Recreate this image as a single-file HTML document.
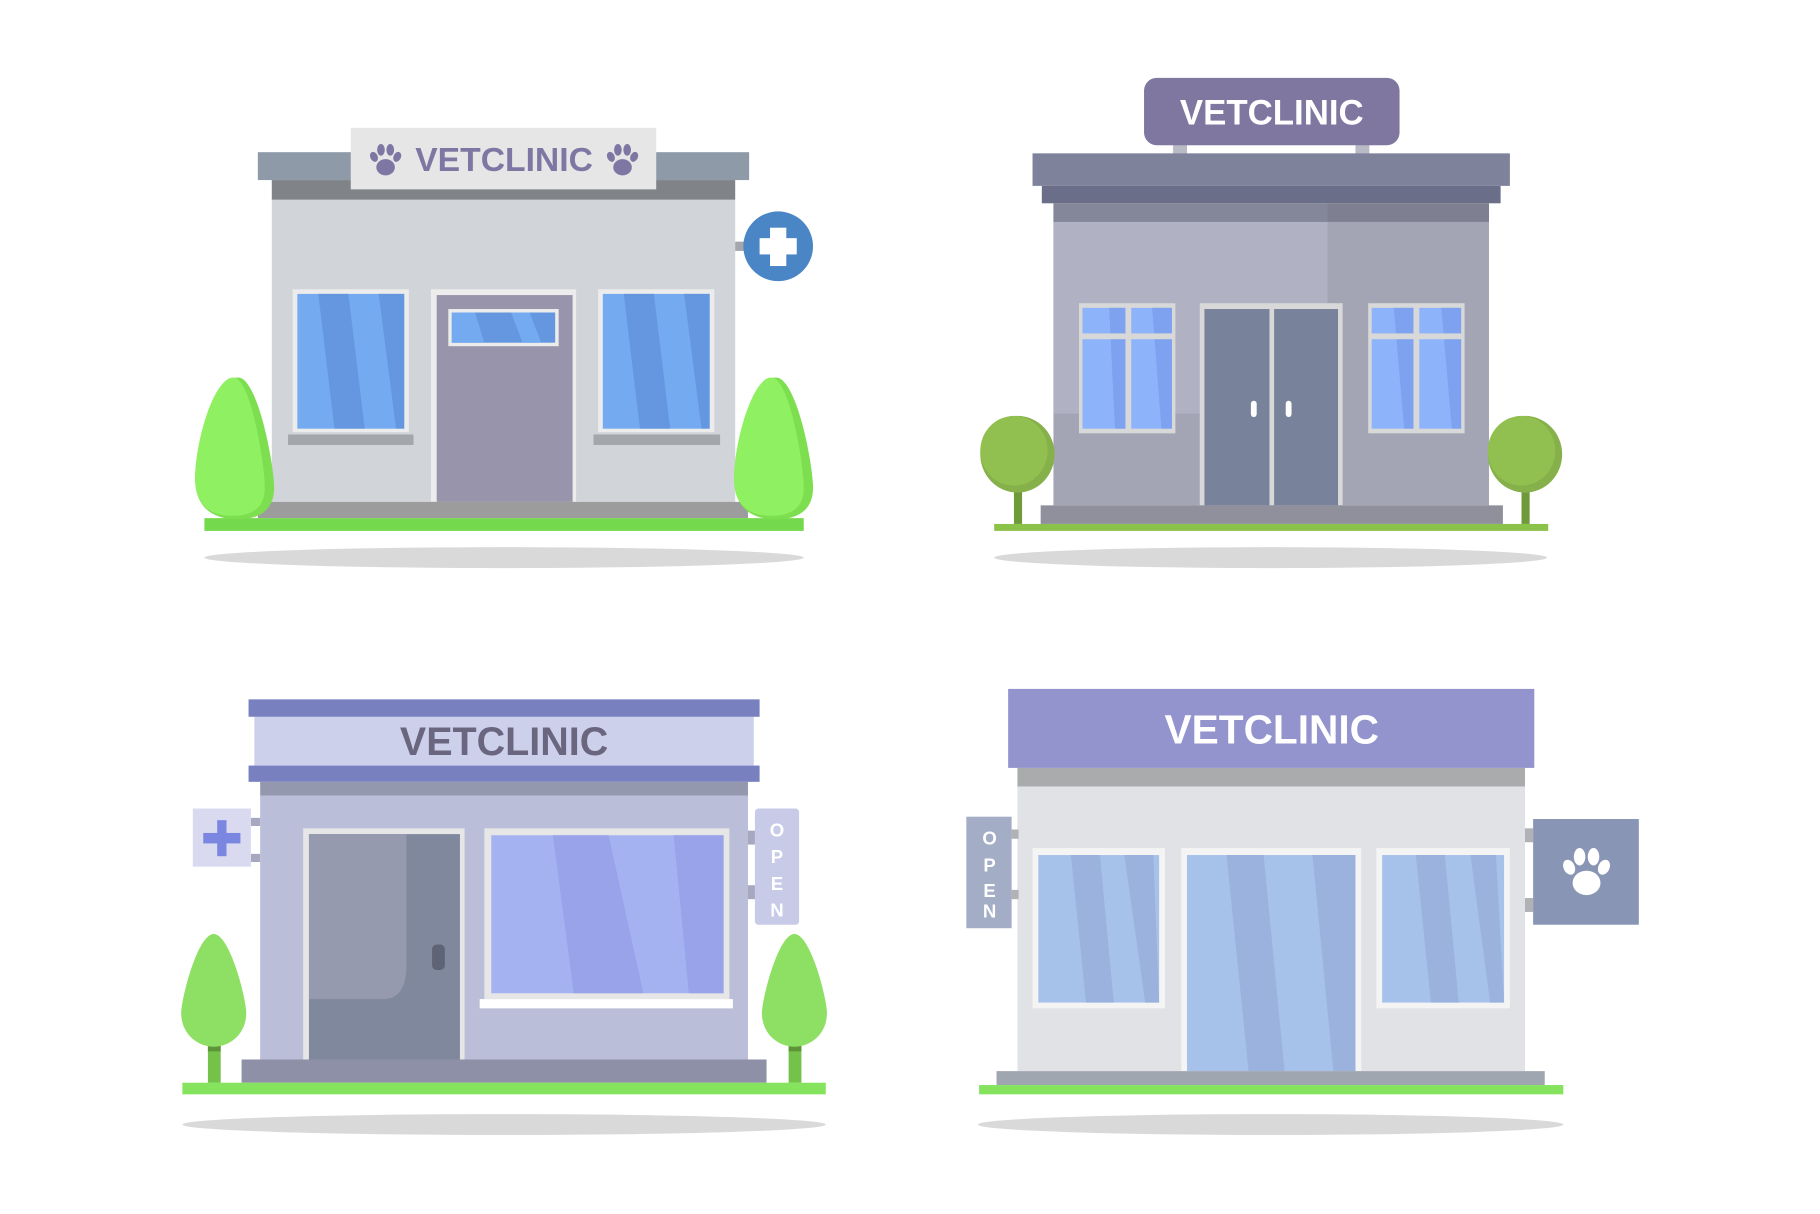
<!DOCTYPE html>
<html><head><meta charset="utf-8"><style>
html,body{margin:0;padding:0;background:#fff;}
svg{display:block;}
text{font-family:"Liberation Sans",sans-serif;font-weight:bold;}
</style></head><body>
<svg width="1820" height="1214" viewBox="0 0 1567 1045" preserveAspectRatio="none" xmlns="http://www.w3.org/2000/svg">
<defs>
<g id="paw">
<ellipse cx="0" cy="6" rx="8" ry="7"/>
<ellipse cx="-10" cy="-3" rx="3.2" ry="4.5" transform="rotate(-25 -10 -3)"/>
<ellipse cx="-4" cy="-9" rx="3.3" ry="5"/>
<ellipse cx="4" cy="-9" rx="3.3" ry="5"/>
<ellipse cx="10" cy="-3" rx="3.2" ry="4.5" transform="rotate(25 10 -3)"/>
</g>
</defs>
<rect width="1567" height="1045" fill="#fff"/>

<!-- ===== Building 1 ===== -->
<ellipse cx="434" cy="480" rx="258" ry="9" fill="#d9d9d9"/>
<rect x="222" y="131" width="423" height="24" fill="#8e9aa8"/>
<rect x="234" y="155" width="399" height="17" fill="#808388"/>
<rect x="234" y="172" width="399" height="260" fill="#d1d4d9"/>
<rect x="302" y="110" width="263" height="53" fill="#e6e6e6"/>
<text x="434" y="147" font-size="29" fill="#7f77a3" text-anchor="middle">VETCLINIC</text>
<g fill="#7f77a3"><use href="#paw" transform="translate(332,138)"/><use href="#paw" transform="translate(536,138)"/></g>
<rect x="252" y="249" width="100" height="123" fill="#ececec"/>
<rect x="256" y="253" width="92" height="116" fill="#74aaf0"/>
<polygon points="274,253 300,253 314,369 288,369" fill="#6597e0"/>
<polygon points="326,253 348,253 348,369 341,369" fill="#6597e0"/>
<rect x="248" y="374" width="108" height="9" fill="#a3a6ab"/>
<rect x="515" y="249" width="100" height="123" fill="#ececec"/>
<rect x="519" y="253" width="92" height="116" fill="#74aaf0"/>
<polygon points="537,253 563,253 577,369 551,369" fill="#6597e0"/>
<polygon points="589,253 611,253 611,369 604,369" fill="#6597e0"/>
<rect x="511" y="374" width="109" height="9" fill="#a3a6ab"/>
<rect x="371" y="249" width="125" height="183" fill="#ececec"/>
<rect x="376" y="254" width="117" height="178" fill="#9894ab"/>
<rect x="386" y="266" width="95" height="32" fill="#ececec"/>
<rect x="389" y="269" width="89" height="26" fill="#6597e0"/>
<polygon points="389,269 409,269 417,295 389,295" fill="#74aaf0"/>
<polygon points="440,269 456,269 466,295 450,295" fill="#74aaf0"/>
<rect x="222" y="432" width="422" height="14" fill="#9c9c9c"/>
<rect x="176" y="446" width="516" height="11" fill="#74d94c"/>
<path d="M205,325 C222,325 236,400 236,420 C236,440 222,447 205,447 C178,447 168,432 168,412 C168,380 186,325 205,325Z" fill="#7ddf50"/>
<path d="M201,325 C216,325 228,400 228,420 C228,438 216,444 200,444 C178,444 168,432 168,412 C168,380 184,325 201,325Z" fill="#8ff061"/>
<path d="M668,325 C686,325 700,400 700,420 C700,440 686,447 668,447 C642,447 632,432 632,412 C632,380 650,325 668,325Z" fill="#7ddf50"/>
<path d="M664,325 C680,325 692,400 692,420 C692,438 680,444 664,444 C642,444 632,432 632,412 C632,380 648,325 664,325Z" fill="#8ff061"/>
<rect x="633" y="208" width="9" height="8" fill="#a3a6ab"/>
<ellipse cx="670" cy="212" rx="30" ry="30" fill="#4a86c5"/>
<rect x="663" y="196" width="14" height="33" fill="#fff"/>
<rect x="654" y="205" width="32" height="14" fill="#fff"/>

<!-- ===== Building 2 ===== -->
<ellipse cx="1094" cy="480" rx="238" ry="9" fill="#d9d9d9"/>
<rect x="1010" y="124" width="12" height="9" fill="#b8bac6"/>
<rect x="1167" y="124" width="12" height="9" fill="#b8bac6"/>
<rect x="985" y="67" width="220" height="58" rx="11" fill="#7f77a0"/>
<text x="1095" y="107" font-size="30" fill="#fff" text-anchor="middle">VETCLINIC</text>
<rect x="889" y="132" width="411" height="28" fill="#7e839b"/>
<rect x="897" y="160" width="395" height="15" fill="#6b6e89"/>
<rect x="907" y="175" width="375" height="260" fill="#a3a5b4"/>
<rect x="907" y="191" width="236" height="165" fill="#b0b1c3"/>
<rect x="907" y="175" width="236" height="16" fill="#848799"/>
<rect x="1143" y="175" width="139" height="16" fill="#7e8091"/>
<g>
<rect x="929" y="261" width="83" height="112" fill="#d8d8d8"/>
<rect x="932" y="265" width="77" height="104" fill="#8db3fa"/>
<polygon points="955,265 969,265 969,369 960,369" fill="#7ea2ef"/>
<polygon points="992,265 1009,265 1009,369 1000,369" fill="#7ea2ef"/>
<rect x="969" y="264" width="5" height="106" fill="#d8d8d8"/>
<rect x="931" y="287" width="79" height="5" fill="#d8d8d8"/>
</g>
<g>
<rect x="1178" y="261" width="83" height="112" fill="#d8d8d8"/>
<rect x="1181" y="265" width="77" height="104" fill="#8db3fa"/>
<polygon points="1200,265 1217,265 1217,369 1209,369" fill="#7ea2ef"/>
<polygon points="1241,265 1258,265 1258,369 1250,369" fill="#7ea2ef"/>
<rect x="1217" y="264" width="5" height="106" fill="#d8d8d8"/>
<rect x="1180" y="287" width="79" height="5" fill="#d8d8d8"/>
</g>
<rect x="1033" y="261" width="123" height="174" fill="#d8d8d8"/>
<rect x="1037" y="266" width="115" height="169" fill="#79829b"/>
<rect x="1093" y="266" width="4" height="169" fill="#d8d8d8"/>
<rect x="1077" y="345" width="5" height="14" rx="2.5" fill="#fff"/>
<rect x="1107" y="345" width="5" height="14" rx="2.5" fill="#fff"/>
<rect x="896" y="435" width="398" height="16" fill="#908f9c"/>
<rect x="856" y="451" width="477" height="6" fill="#8bc34a"/>
<rect x="873" y="418" width="7" height="33" fill="#6e9a3a"/>
<ellipse cx="876" cy="391" rx="32" ry="33" fill="#86b04a"/>
<ellipse cx="873" cy="388" rx="29" ry="30" fill="#92c050"/>
<rect x="1310" y="418" width="7" height="33" fill="#6e9a3a"/>
<ellipse cx="1313" cy="391" rx="32" ry="33" fill="#86b04a"/>
<ellipse cx="1310" cy="388" rx="29" ry="30" fill="#92c050"/>

<!-- ===== Building 3 ===== -->
<ellipse cx="434" cy="968" rx="277" ry="9" fill="#d9d9d9"/>
<rect x="219" y="617" width="430" height="42" fill="#cdd0ea"/>
<rect x="214" y="602" width="440" height="15" fill="#7880c0"/>
<rect x="214" y="659" width="440" height="14" fill="#7880c0"/>
<text x="434" y="650" font-size="34" fill="#6a6680" text-anchor="middle">VETCLINIC</text>
<rect x="224" y="673" width="420" height="12" fill="#9498ae"/>
<rect x="224" y="685" width="420" height="227" fill="#babed9"/>
<rect x="261" y="713" width="139" height="199" fill="#e6e6e6"/>
<rect x="266" y="718" width="130" height="194" fill="#80889e"/>
<path d="M266,718 L350,718 L350,830 Q350,860 330,860 L266,860Z" fill="#959aae"/>
<rect x="372" y="813" width="11" height="22" rx="4" fill="#5e6475"/>
<rect x="417" y="713" width="211" height="147" fill="#e6e6e6"/>
<rect x="423" y="719" width="200" height="136" fill="#a5b2f2"/>
<polygon points="476,719 524,719 554,855 494,855" fill="#98a3ea"/>
<polygon points="580,719 623,719 623,855 593,855" fill="#98a3ea"/>
<rect x="413" y="860" width="218" height="8" fill="#fff"/>
<rect x="208" y="912" width="452" height="20" fill="#8d90a6"/>
<rect x="157" y="932" width="554" height="10" fill="#86e35e"/>
<rect x="216" y="704" width="8" height="7" fill="#a6a8c0"/>
<rect x="216" y="735" width="8" height="7" fill="#a6a8c0"/>
<rect x="166" y="696" width="50" height="50" fill="#d9daf0"/>
<rect x="187" y="706" width="8" height="31" fill="#7a86e0"/>
<rect x="175" y="717" width="32" height="9" fill="#7a86e0"/>
<rect x="644" y="715" width="6" height="12" fill="#a6a8c0"/>
<rect x="644" y="762" width="6" height="12" fill="#a6a8c0"/>
<rect x="650" y="696" width="38" height="100" rx="3" fill="#c8cbe8"/>
<g fill="#fff" font-size="16" text-anchor="middle">
<text x="669" y="720">O</text><text x="669" y="743">P</text><text x="669" y="766">E</text><text x="669" y="789">N</text>
</g>
<rect x="179" y="893" width="11" height="39" fill="#74c24a"/>
<rect x="179" y="893" width="11" height="12" fill="#5c9438"/>
<path d="M184,804 C198,804 212,860 212,872 C212,890 198,901 184,901 C170,901 156,890 156,872 C156,860 170,804 184,804Z" fill="#8ee064"/>
<rect x="679" y="893" width="11" height="39" fill="#74c24a"/>
<rect x="679" y="893" width="11" height="12" fill="#5c9438"/>
<path d="M684,804 C698,804 712,860 712,872 C712,890 698,901 684,901 C670,901 656,890 656,872 C656,860 670,804 684,804Z" fill="#8ee064"/>

<!-- ===== Building 4 ===== -->
<ellipse cx="1094" cy="968" rx="252" ry="9" fill="#d9d9d9"/>
<rect x="876" y="661" width="437" height="17" fill="#a9abac"/>
<rect x="876" y="677" width="437" height="245" fill="#e1e2e6"/>
<rect x="868" y="593" width="453" height="68" fill="#9393cd"/>
<text x="1095" y="640" font-size="35" fill="#fff" text-anchor="middle">VETCLINIC</text>
<rect x="889" y="730" width="114" height="138" fill="#f4f4f4"/>
<rect x="894" y="736" width="104" height="127" fill="#a6c2ea"/>
<polygon points="922,736 947,736 959,863 935,863" fill="#9bb2de"/>
<polygon points="968,736 993,736 998,863 986,863" fill="#9bb2de"/>
<rect x="1185" y="730" width="115" height="138" fill="#f4f4f4"/>
<rect x="1190" y="736" width="105" height="127" fill="#a6c2ea"/>
<polygon points="1219,736 1244,736 1256,863 1232,863" fill="#9bb2de"/>
<polygon points="1266,736 1288,736 1295,863 1283,863" fill="#9bb2de"/>
<rect x="1017" y="730" width="155" height="192" fill="#f4f4f4"/>
<rect x="1022" y="736" width="145" height="186" fill="#a6c2ea"/>
<polygon points="1056,736 1088,736 1106,922 1075,922" fill="#9bb2de"/>
<polygon points="1130,736 1167,736 1167,922 1148,922" fill="#9bb2de"/>
<rect x="858" y="922" width="472" height="12" fill="#a0a6b0"/>
<rect x="843" y="934" width="503" height="8" fill="#86e35e"/>
<rect x="871" y="714" width="6" height="8" fill="#b0b2b6"/>
<rect x="871" y="766" width="6" height="8" fill="#b0b2b6"/>
<rect x="832" y="703" width="39" height="96" fill="#a3adc6"/>
<g fill="#fff" font-size="16" text-anchor="middle">
<text x="852" y="727">O</text><text x="852" y="750">P</text><text x="852" y="772">E</text><text x="852" y="790">N</text>
</g>
<rect x="1313" y="713" width="7" height="12" fill="#b0b2b6"/>
<rect x="1313" y="773" width="7" height="12" fill="#b0b2b6"/>
<rect x="1320" y="705" width="91" height="91" fill="#8895b5"/>
<g fill="#fff"><use href="#paw" transform="translate(1366,751) scale(1.5)"/></g>
</svg>
</body></html>
